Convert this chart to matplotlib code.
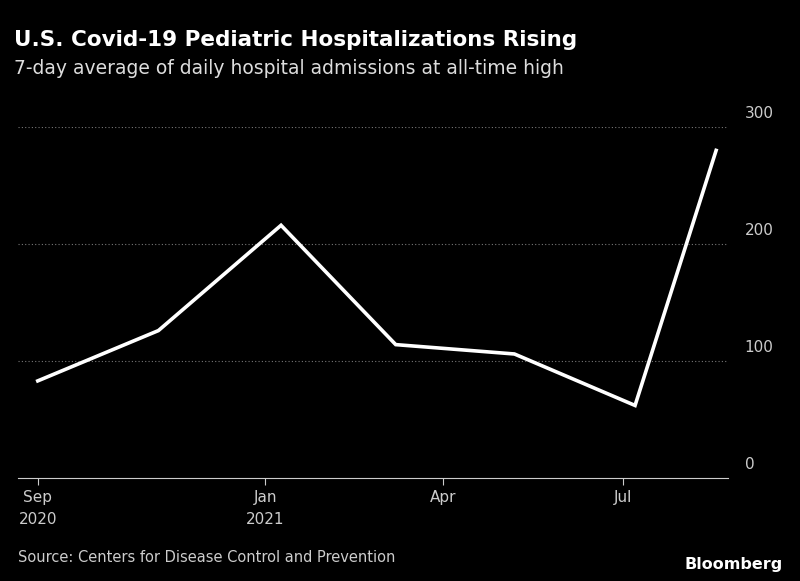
import matplotlib
matplotlib.use("Agg")
import matplotlib.pyplot as plt
import matplotlib.transforms as mtransforms
import pandas as pd

dates = pd.to_datetime(["2020-09-08","2020-11-08","2021-01-09","2021-03-08","2021-05-07","2021-07-07","2021-08-17"])
values = [83, 126, 216, 114, 106, 62, 280]
tick_dates = pd.to_datetime(["2020-09-08","2021-01-01","2021-04-01","2021-07-01"])
tick_labels = ["Sep\n2020","Jan\n2021","Apr","Jul"]
yticks = [0, 100, 200, 300]

fig = plt.figure(figsize=(8, 5.81), dpi=100, facecolor="black")
ax = fig.add_axes([18/800, 103/581, 710/800, 351/581], facecolor="black")
ax.plot(dates, values, color="white", lw=2.6, solid_joinstyle="miter")
ax.set_xlim(pd.Timestamp("2021-01-01") - pd.Timedelta(days=125), pd.Timestamp("2021-01-01") + pd.Timedelta(days=234))
ax.set_ylim(0, 300)
ax.set_yticks(yticks)
ax.yaxis.tick_right()
ax.tick_params(axis="y", length=0, colors="#cccccc", labelsize=11, pad=12)
off = mtransforms.ScaledTranslation(0, 6/100, fig.dpi_scale_trans)
for lab in ax.get_yticklabels():
    lab.set_verticalalignment("bottom")
    lab.set_transform(lab.get_transform() + off)
for y in yticks[1:]:
    ax.axhline(y, color="#777777", lw=0.8, ls=(0, (1, 2)), zorder=0)
ax.set_xticks(tick_dates)
ax.set_xticklabels(tick_labels, ha="center", linespacing=1.6)
ax.tick_params(axis="x", colors="#cccccc", labelsize=11, length=5, color="#cccccc")
for s in ["top", "right", "left"]:
    ax.spines[s].set_visible(False)
ax.spines["bottom"].set_color("#cccccc")

fig.text(14/800, 1-40/581, "U.S. Covid-19 Pediatric Hospitalizations Rising", color="white", fontsize=15.5, fontweight="bold", va="center")
fig.text(14/800, 1-68/581, "7-day average of daily hospital admissions at all-time high", color="#dddddd", fontsize=13.5, va="center")
fig.text(18/800, 1-557/581, "Source: Centers for Disease Control and Prevention", color="#cccccc", fontsize=10.5, va="center")
fig.text(783/800, 1-565/581, "Bloomberg", color="white", fontsize=11.5, fontweight="bold", ha="right", va="center")
fig.savefig("out.png", facecolor="black")
